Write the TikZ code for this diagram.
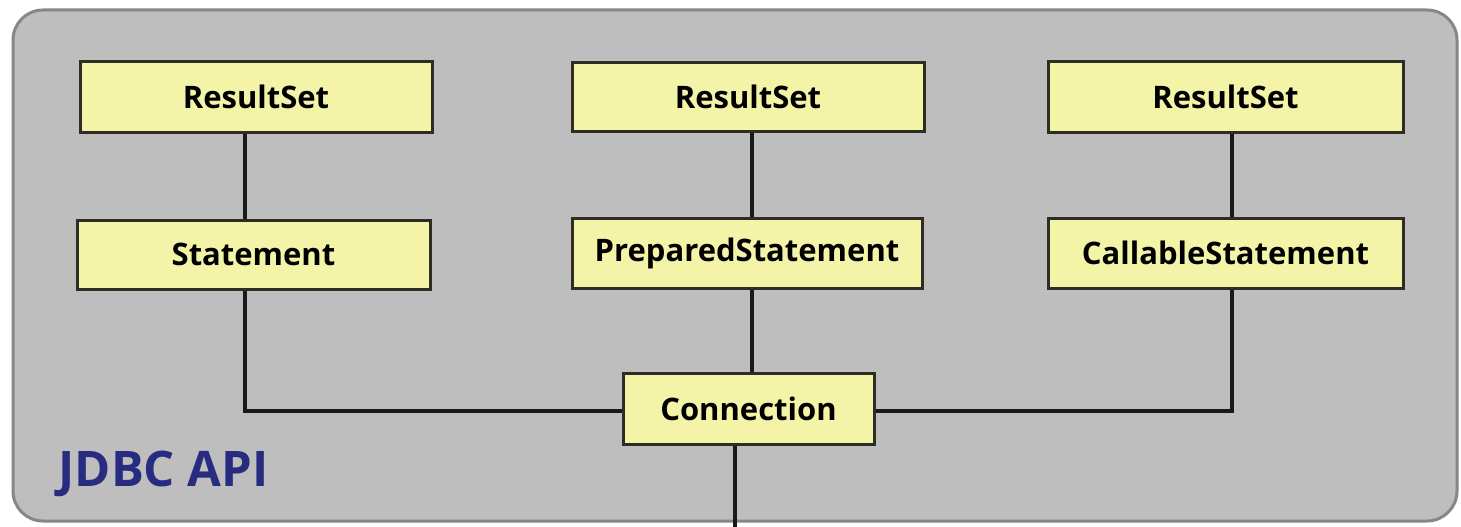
\documentclass[tikz,border=0pt]{standalone}
\usepackage{fontspec}
\setmainfont{Open Sans}
\definecolor{panelfill}{RGB}{190,190,190}
\definecolor{paneledge}{RGB}{135,135,135}
\definecolor{boxfill}{RGB}{244,244,168}
\definecolor{boxedge}{RGB}{45,45,35}
\definecolor{apiblue}{RGB}{40,44,128}
\tikzset{
  cls/.style={draw=boxedge, line width=3pt, fill=boxfill, inner sep=0pt,
    font=\fontsize{31}{36}\selectfont\bfseries, text=black},
  link/.style={line width=4pt, draw=black!90},
}
\begin{document}
\begin{tikzpicture}[x=1pt,y=-1pt]
\useasboundingbox (0,0) rectangle (1461,527);
\fill[white] (0,0) rectangle (1461,527);
\draw[paneledge, fill=panelfill, line width=3pt, rounded corners=30pt] (13,10) rectangle (1457,521);
\node[anchor=west, text=apiblue, font=\fontsize{49}{58}\selectfont\bfseries] (api) at (55,474) {JDBC API};

\node[cls, minimum width=352pt, minimum height=70pt] (rs1) at (256,97) {ResultSet\hspace{14pt}};
\node[cls, minimum width=352pt, minimum height=69pt] (rs2) at (748,97) {ResultSet};
\node[cls, minimum width=355pt, minimum height=70pt] (rs3) at (1225.5,97) {ResultSet};
\node[cls, minimum width=353pt, minimum height=69pt] (st1) at (253.5,254.5) {Statement};
\node[cls, minimum width=350pt, minimum height=70pt] (st2) at (747,253) {PreparedStatement};
\node[cls, minimum width=355pt, minimum height=70pt] (st3) at (1225.5,253) {CallableStatement};
\node[cls, minimum width=251pt, minimum height=71pt] (conn) at (748.5,408.5) {Connection};

\coordinate (xa) at (245,0);
\coordinate (xb) at (752,0);
\coordinate (xc) at (1232,0);
\coordinate (xd) at (735,0);
\coordinate (bend1) at (245,411);
\coordinate (bend3) at (1232,411);
\coordinate (out) at (735,527);

\draw[link] (rs1.south -| xa) -- (st1.north -| xa);
\draw[link] (rs2.south -| xb) -- (st2.north -| xb);
\draw[link] (rs3.south -| xc) -- (st3.north -| xc);
\draw[link] (st1.south -| xa) -- (bend1) -- (conn.west |- bend1);
\draw[link] (st2.south -| xb) -- (conn.north -| xb);
\draw[link] (st3.south -| xc) -- (bend3) -- (conn.east |- bend3);
\draw[link] (conn.south -| xd) -- (out);
\end{tikzpicture}
\end{document}
